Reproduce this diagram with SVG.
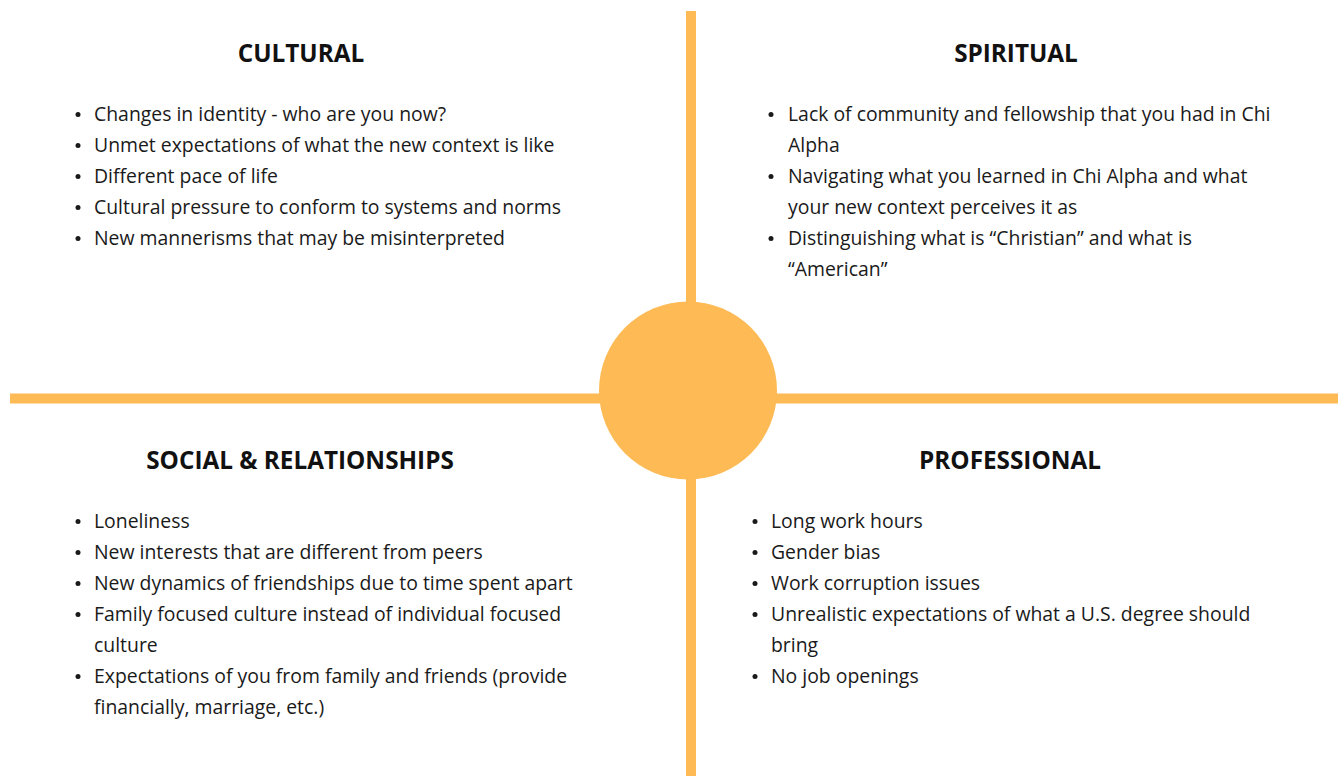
<svg xmlns="http://www.w3.org/2000/svg" width="1338" height="776" viewBox="0 0 1338 776">
<style>
.h{font-family:"Open Sans","Liberation Sans",sans-serif;font-weight:bold;font-size:24.3px;fill:#111;text-anchor:middle}
.t{font-family:"Open Sans","Liberation Sans",sans-serif;font-size:19.4px;fill:#1a1a1a}
.b{fill:#1a1a1a}
.ax{fill:#FDBA55}
</style>
<rect width="1338" height="776" fill="#fff"/>
<g id="connectors">
<rect class="ax" x="686" y="11" width="10" height="765"/>
<rect class="ax" x="10" y="393.5" width="1328" height="10"/>
</g>
<g id="center">
<circle class="ax" cx="688" cy="390.5" r="89"/>
</g>
<g id="cultural">
<text class="h" x="301" y="62">CULTURAL</text>
<circle class="b" cx="78" cy="114.5" r="2.5"/><text class="t" x="94" y="120.5">Changes in identity - who are you now?</text>
<circle class="b" cx="78" cy="145.5" r="2.5"/><text class="t" x="94" y="151.5">Unmet expectations of what the new context is like</text>
<circle class="b" cx="78" cy="176.5" r="2.5"/><text class="t" x="94" y="182.5">Different pace of life</text>
<circle class="b" cx="78" cy="207.5" r="2.5"/><text class="t" x="94" y="213.5">Cultural pressure to conform to systems and norms</text>
<circle class="b" cx="78" cy="238.5" r="2.5"/><text class="t" x="94" y="244.5">New mannerisms that may be misinterpreted</text>
</g>
<g id="spiritual">
<text class="h" x="1016" y="62">SPIRITUAL</text>
<circle class="b" cx="771" cy="114.5" r="2.5"/><text class="t" x="788" y="120.5">Lack of community and fellowship that you had in Chi</text>
<text class="t" x="788" y="151.5">Alpha</text>
<circle class="b" cx="771" cy="176.5" r="2.5"/><text class="t" x="788" y="182.5">Navigating what you learned in Chi Alpha and what</text>
<text class="t" x="788" y="213.5">your new context perceives it as</text>
<circle class="b" cx="771" cy="238.5" r="2.5"/><text class="t" x="788" y="244.5">Distinguishing what is “Christian” and what is</text>
<text class="t" x="788" y="275.5">“American”</text>
</g>
<g id="social">
<text class="h" x="300" y="469">SOCIAL &amp; RELATIONSHIPS</text>
<circle class="b" cx="78" cy="521.5" r="2.5"/><text class="t" x="94" y="527.5">Loneliness</text>
<circle class="b" cx="78" cy="552.5" r="2.5"/><text class="t" x="94" y="558.5">New interests that are different from peers</text>
<circle class="b" cx="78" cy="583.5" r="2.5"/><text class="t" x="94" y="589.5">New dynamics of friendships due to time spent apart</text>
<circle class="b" cx="78" cy="614.5" r="2.5"/><text class="t" x="94" y="620.5">Family focused culture instead of individual focused</text>
<text class="t" x="94" y="651.5">culture</text>
<circle class="b" cx="78" cy="676.5" r="2.5"/><text class="t" x="94" y="682.5">Expectations of you from family and friends (provide</text>
<text class="t" x="94" y="713.5">financially, marriage, etc.)</text>
</g>
<g id="professional">
<text class="h" x="1010" y="469">PROFESSIONAL</text>
<circle class="b" cx="755" cy="521.5" r="2.5"/><text class="t" x="771" y="527.5">Long work hours</text>
<circle class="b" cx="755" cy="552.5" r="2.5"/><text class="t" x="771" y="558.5">Gender bias</text>
<circle class="b" cx="755" cy="583.5" r="2.5"/><text class="t" x="771" y="589.5">Work corruption issues</text>
<circle class="b" cx="755" cy="614.5" r="2.5"/><text class="t" x="771" y="620.5">Unrealistic expectations of what a U.S. degree should</text>
<text class="t" x="771" y="651.5">bring</text>
<circle class="b" cx="755" cy="676.5" r="2.5"/><text class="t" x="771" y="682.5">No job openings</text>
</g>
</svg>
